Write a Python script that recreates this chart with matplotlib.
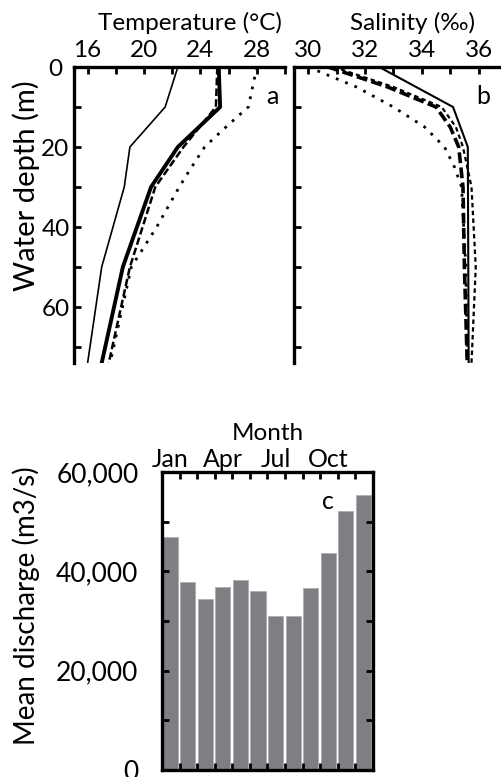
import matplotlib
matplotlib.use("Agg")
import matplotlib.pyplot as plt
from matplotlib.ticker import MultipleLocator, FixedLocator, FuncFormatter
import numpy as np

plt.rcParams['font.family'] = ['Lato', 'DejaVu Sans']

# temperature profiles (deg C vs depth m)
t_thin_d = [0, 10, 20, 30, 50, 74]
t_thin = [22.4, 21.5, 19.0, 18.6, 17.0, 16.0]
t_thick_d = [0, 10, 20, 30, 50, 74]
t_thick = [25.3, 25.4, 22.4, 20.5, 18.5, 17.0]
t_dash_d = [0, 10, 13, 20, 30, 50, 74]
t_dash = [25.2, 25.1, 24.4, 22.8, 20.8, 19.0, 17.5]
t_dot_d = [0, 10, 12.5, 16, 20, 26, 30, 40, 50, 74]
t_dot = [28.0, 27.4, 26.6, 25.5, 24.3, 23.2, 22.5, 20.9, 19.1, 17.6]

# salinity profiles (permil vs depth m)
s_thin_d = [0, 10, 20, 74]
s_thin = [32.5, 35.1, 35.62, 35.65]
s_depth = [0, 5, 10, 15, 20, 30, 50, 74]
s_thick = [30.7, 32.8, 34.5, 35.0, 35.3, 35.45, 35.5, 35.6]
s_dash = [30.9, 33.0, 34.7, 35.2, 35.45, 35.75, 35.9, 35.75]
s_dot_d = [0, 5, 10, 15, 20, 25, 30, 50, 74]
s_dot = [30.0, 31.7, 33.0, 34.1, 34.8, 35.15, 35.4, 35.55, 35.6]

# monthly discharge
months = ['Jan', 'Feb', 'Mar', 'Apr', 'May', 'Jun', 'Jul', 'Aug', 'Sep', 'Oct', 'Nov', 'Dec']
discharge = [47000, 37800, 34500, 36900, 38300, 36000, 31100, 31000, 36600, 43600, 52200, 55400]
shown_months = ['Jan', 'Apr', 'Jul', 'Oct']

W, H = 502, 777
fig = plt.figure(figsize=(W / 100, H / 100), dpi=100)

def box(l, t, r, b):
    return [l / W, 1 - b / H, (r - l) / W, (b - t) / H]

lw_sp = 2.4

def style(ax):
    for s in ['left', 'top']:
        ax.spines[s].set_linewidth(lw_sp)
    for s in ['right', 'bottom']:
        ax.spines[s].set_visible(False)
    ax.xaxis.set_ticks_position('top')
    ax.yaxis.set_ticks_position('left')
    ax.tick_params(which='both', direction='in', length=5, width=2, labelsize=17.5, pad=4)

# --- temperature panel
ax1 = fig.add_axes(box(73.5, 67, 285, 363))
style(ax1)
ax1.plot(t_thin, t_thin_d, color='k', lw=1.2)
ax1.plot(t_thick, t_thick_d, color='k', lw=2.8)
ax1.plot(t_dash, t_dash_d, color='k', lw=1.8, dashes=(3, 1.3))
ax1.plot(t_dot, t_dot_d, color='k', lw=2.0, linestyle=(0, (1, 2.6)))
ax1.set_xlim(15, 30)
ax1.set_ylim(74, 0)
ax1.xaxis.set_major_locator(FixedLocator([16, 20, 24, 28]))
ax1.xaxis.set_minor_locator(MultipleLocator(2))
ax1.yaxis.set_major_locator(MultipleLocator(20))
ax1.yaxis.set_minor_locator(MultipleLocator(10))
for lab in ax1.get_yticklabels():
    lab.set_horizontalalignment('center')
ax1.tick_params(axis='y', pad=13)
ax1.text(29.1, 7.5, 'a', fontsize=18, ha='center', va='center')
fig.text(190 / W, 1 - 23 / H, 'Temperature (\u00b0C)', fontsize=17.5, ha='center', va='center')
fig.text(26 / W, 1 - 186 / H, 'Water depth (m)', fontsize=21, rotation=90, ha='center', va='center')

# --- salinity panel
ax2 = fig.add_axes(box(294, 67, 507, 363))
style(ax2)
ax2.plot(s_thin, s_thin_d, color='k', lw=1.5)
ax2.plot(s_thick, s_depth, color='k', lw=2.6, dashes=(3, 1.2))
ax2.plot(s_dash, s_depth, color='k', lw=1.6, dashes=(2, 1.5))
ax2.plot(s_dot, s_dot_d, color='k', lw=2.0, linestyle=(0, (1, 2.6)))
ax2.set_xlim(29.5, 37)
ax2.set_ylim(74, 0)
ax2.xaxis.set_major_locator(FixedLocator([30, 32, 34, 36]))
ax2.xaxis.set_minor_locator(MultipleLocator(1))
ax2.yaxis.set_major_locator(MultipleLocator(10))
ax2.set_yticklabels([])
ax2.text(36.15, 7.5, 'b', fontsize=18, ha='center', va='center')
fig.text(412 / W, 1 - 23 / H, 'Salinity (\u2030)', fontsize=17.5, ha='center', va='center')

# --- discharge panel
ax3 = fig.add_axes(box(162, 472, 373, 770))
x = np.arange(len(months))
ax3.bar(x + 0.03, discharge, width=0.86, align='edge', color='#7e7f83',
        edgecolor='#a9aaad', linewidth=0.5)
ax3.set_xlim(0, 12)
ax3.set_ylim(0, 60000)
for s in ax3.spines.values():
    s.set_linewidth(lw_sp)
ax3.xaxis.set_major_locator(FixedLocator(np.arange(1, 12)))
ax3.xaxis.set_major_formatter(FuncFormatter(lambda v, p: ''))
centers = [months.index(m) + 0.47 for m in shown_months]
ax3.xaxis.set_minor_locator(FixedLocator(centers))
ax3.xaxis.set_minor_formatter(FuncFormatter(lambda v, p: shown_months[p] if p < len(shown_months) else ''))
ax3.tick_params(axis='x', which='major', direction='in', length=5, width=2,
                top=True, bottom=True, labeltop=False, labelbottom=False)
ax3.tick_params(axis='x', which='minor', length=0, top=True, bottom=False,
                labeltop=True, labelbottom=False, labelsize=18, pad=1)
ax3.yaxis.set_major_locator(MultipleLocator(20000))
ax3.yaxis.set_minor_locator(MultipleLocator(10000))
ax3.yaxis.set_major_formatter(FuncFormatter(lambda v, p: f'{int(v):,}'))
ax3.tick_params(axis='y', which='both', direction='in', length=5, width=2,
                left=True, right=True, labelsize=19, pad=17)
ax3.text(9.45, 54000, 'c', fontsize=18, ha='center', va='center')
ax3.set_title('Month', fontsize=17.5, pad=23)
fig.text(26 / W, 1 - 606 / H, 'Mean discharge (m3/s)', fontsize=20, rotation=90, ha='center', va='center')

fig.savefig('out.png', dpi=100)
